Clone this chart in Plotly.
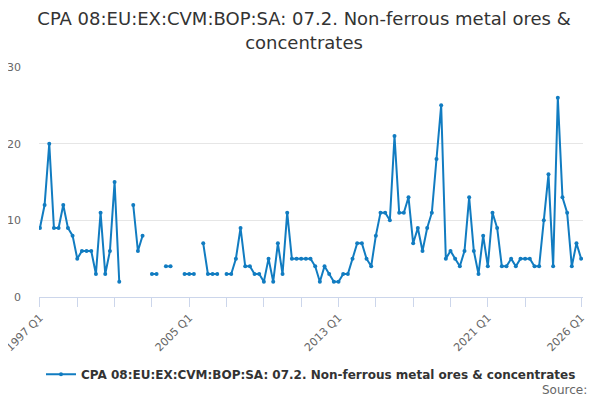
import plotly.graph_objects as go

# quarterly labels 1997 Q1 .. 2026 Q1
quarters = ['{} Q{}'.format(y, q) for y in range(1997, 2027) for q in range(1, 5)][:117]

values = [9, 12, 20, 9, 9, 12, 9, 8, 5, 6, 6, 6, 3, 11, 3, 6, 15, 2, None, None,
          12, 6, 8, None, 3, 3, None, 4, 4, None, None, 3, 3, 3, None, 7, 3, 3, 3, None,
          3, 3, 5, 9, 4, 4, 3, 3, 2, 5, 2, 7, 3, 11, 5, 5, 5, 5, 5, 4,
          2, 4, 3, 2, 2, 3, 3, 5, 7, 7, 5, 4, 8, 11, 11, 10, 21, 11, 11, 13,
          7, 9, 6, 9, 11, 18, 25, 5, 6, 5, 4, 6, 13, 6, 3, 8, 4, 11, 9, 4,
          4, 5, 4, 5, 5, 5, 4, 4, 10, 16, 4, 26, 13, 11, 4, 7, 5]

tick_quarters = quarters[0:105:8] + ['2026 Q1']
labelled = ['1997 Q1', '2005 Q1', '2013 Q1', '2021 Q1', '2026 Q1']
tick_text = [q if q in labelled else '' for q in tick_quarters]

series_name = 'CPA 08:EU:EX:CVM:BOP:SA: 07.2. Non-ferrous metal ores & concentrates'

fig = go.Figure()
fig.add_trace(go.Scatter(
    x=quarters, y=values, name=series_name, mode='lines+markers',
    line=dict(color='#117cc1', width=2),
    marker=dict(color='#117cc1', size=4),
    connectgaps=False, showlegend=True))

# page body adds 8px, so the figure is a little smaller than the window
fig.update_layout(
    width=592, height=392,
    margin=dict(l=31, r=17, t=59, b=103, autoexpand=False),
    paper_bgcolor='white', plot_bgcolor='white',
    font=dict(family='DejaVu Sans', color='#333333'),
    title=dict(text='CPA 08:EU:EX:CVM:BOP:SA: 07.2. Non-ferrous metal ores &<br>concentrates',
               x=0.5, xanchor='center', yref='container', y=0.956, yanchor='top',
               font=dict(size=18, color='#333333'), automargin=False),
    showlegend=True,
    legend=dict(orientation='h', x=0.5, xanchor='center', yref='container', y=0.066, yanchor='middle',
                font=dict(size=12, color='#333333', weight='bold')),
)
fig.update_xaxes(type='category', range=[-0.2, 116.4], tickmode='array',
                 tickvals=tick_quarters, ticktext=tick_text, tickangle=-45,
                 ticks='outside', ticklen=9, tickcolor='#ccd6eb',
                 showline=True, linecolor='#ccd6eb', showgrid=False, automargin=False,
                 tickfont=dict(size=11, color='#666666'))
fig.update_yaxes(range=[0, 30], tickvals=[0, 10, 20, 30], showgrid=True, gridcolor='#e6e6e6',
                 zeroline=False, showline=False, ticks='', automargin=False, ticklabelstandoff=17,
                 tickfont=dict(size=11, color='#666666'))

fig.add_annotation(text='Source:', xref='paper', yref='paper', x=1.011, y=-0.404,
                   xanchor='right', yanchor='middle', showarrow=False,
                   font=dict(size=12, color='#666666'))

fig.write_html('out.html')
